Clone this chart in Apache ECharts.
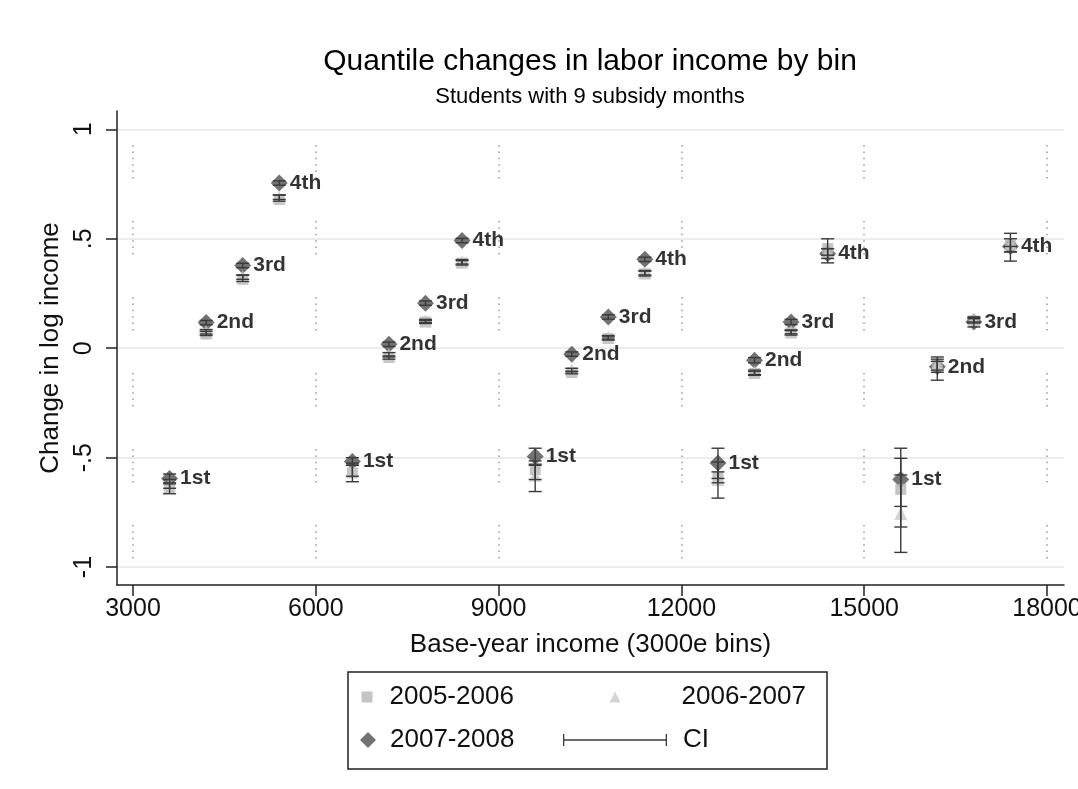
<!DOCTYPE html>
<html>
<head>
<meta charset="utf-8">
<title>Quantile changes in labor income by bin</title>
<script src="https://cdn.jsdelivr.net/npm/echarts@6/dist/echarts.min.js"></script>
<style>
  html, body { margin: 0; padding: 0; background: #fff; }
  #chart { width: 1078px; height: 789px; }
</style>
</head>
<body>
<div id="chart"></div>
<script>
// Quantile positions inside each 3000e base-year income bin
const quantilePos = [
  3600, 4200, 4800, 5400,
  6600, 7200, 7800, 8400,
  9600, 10200, 10800, 11400,
  12600, 13200, 13800, 14400,
  15600, 16200, 16800, 17400
];
const quantileNames = [
  '1st', '2nd', '3rd', '4th',
  '1st', '2nd', '3rd', '4th',
  '1st', '2nd', '3rd', '4th',
  '1st', '2nd', '3rd', '4th',
  '1st', '2nd', '3rd', '4th'
];

// 2005-2006 change in log income and confidence bounds
const y0506 = [
  -0.640, 0.065, 0.315, 0.680,
  -0.570, -0.042, 0.120, 0.389,
  -0.555, -0.111, 0.044, 0.340,
  -0.590, -0.115, 0.070, 0.455,
  -0.645, -0.080, 0.125, 0.470
];
const lo0506 = [
  -0.665, 0.058, 0.305, 0.672,
  -0.610, -0.050, 0.113, 0.380,
  -0.600, -0.117, 0.037, 0.330,
  -0.615, -0.124, 0.060, 0.410,
  -0.817, -0.110, 0.115, 0.440
];
const hi0506 = [
  -0.620, 0.077, 0.333, 0.700,
  -0.535, -0.035, 0.127, 0.400,
  -0.515, -0.105, 0.052, 0.352,
  -0.565, -0.106, 0.080, 0.500,
  -0.503, -0.060, 0.135, 0.500
];

// 2006-2007
const y0607 = [
  -0.620, 0.075, 0.325, 0.690,
  -0.555, -0.030, 0.125, 0.395,
  -0.580, -0.100, 0.050, 0.345,
  -0.600, -0.110, 0.075, 0.440,
  -0.755, -0.075, 0.130, 0.478
];
const lo0607 = [
  -0.640, 0.065, 0.315, 0.680,
  -0.585, -0.040, 0.118, 0.385,
  -0.655, -0.108, 0.042, 0.335,
  -0.685, -0.120, 0.066, 0.425,
  -0.933, -0.100, 0.120, 0.440
];
const hi0607 = [
  -0.600, 0.085, 0.335, 0.700,
  -0.525, -0.020, 0.132, 0.405,
  -0.530, -0.092, 0.058, 0.355,
  -0.520, -0.100, 0.084, 0.455,
  -0.579, -0.050, 0.140, 0.525
];

// 2007-2008
const y0708 = [
  -0.595, 0.117, 0.378, 0.755,
  -0.518, 0.018, 0.206, 0.492,
  -0.495, -0.027, 0.143, 0.406,
  -0.525, -0.055, 0.120, 0.432,
  -0.600, -0.085, 0.120, 0.465
];
const lo0708 = [
  -0.615, 0.107, 0.368, 0.745,
  -0.535, 0.008, 0.196, 0.482,
  -0.535, -0.037, 0.133, 0.396,
  -0.595, -0.067, 0.108, 0.390,
  -0.723, -0.146, 0.097, 0.398
];
const hi0708 = [
  -0.575, 0.127, 0.388, 0.765,
  -0.500, 0.028, 0.216, 0.502,
  -0.457, -0.017, 0.153, 0.416,
  -0.457, -0.043, 0.132, 0.455,
  -0.457, -0.040, 0.143, 0.465
];

// Axis ticks and their printed labels
const xTicks = [3000, 6000, 9000, 12000, 15000, 18000];
const xTickLabels = ['3000', '6000', '9000', '12000', '15000', '18000'];
const yTicks = [-1, -0.5, 0, 0.5, 1];
const yTickLabels = ['-1', '-.5', '0', '.5', '1'];

const FONT = 'Liberation Sans, Arial, sans-serif';

function points(ys) {
  return quantilePos.map((x, i) => ({ name: quantileNames[i], value: [x, ys[i]] }));
}

function tickText(ticks, labels) {
  return v => {
    const i = ticks.findIndex(t => Math.abs(t - v) < 1e-9);
    return i >= 0 ? labels[i] : '';
  };
}

// All confidence intervals as [x, lower, upper]
const ciRows = [];
[[lo0506, hi0506], [lo0607, hi0607], [lo0708, hi0708]].forEach(([lo, hi]) => {
  quantilePos.forEach((x, i) => ciRows.push([x, lo[i], hi[i]]));
});

// Dotted vertical guides: six dots, then a long gap
const dotPattern = [1.5, 4.9, 1.5, 4.9, 1.5, 4.9, 1.5, 4.9, 1.5, 4.9, 1.5, 42.5];

const chart = echarts.init(document.getElementById('chart'), null, { renderer: 'canvas' });

const ciStroke = '#3a3a3a';

chart.setOption({
  backgroundColor: '#ffffff',
  animation: false,
  textStyle: { fontFamily: FONT },
  title: {
    text: 'Quantile changes in labor income by bin',
    subtext: 'Students with 9 subsidy months',
    left: 590,
    top: 47,
    textAlign: 'center',
    padding: 0,
    itemGap: 9,
    textStyle: { fontFamily: FONT, fontSize: 30, fontWeight: 'normal', color: '#000' },
    subtextStyle: { fontFamily: FONT, fontSize: 22, color: '#000' }
  },
  grid: { left: 117, right: 14, top: 111, bottom: 204, containLabel: false, outerBoundsMode: 'none' },
  xAxis: {
    type: 'value',
    min: 2737,
    max: 18279,
    name: 'Base-year income (3000e bins)',
    nameLocation: 'middle',
    nameGap: 47,
    nameTextStyle: { fontFamily: FONT, fontSize: 26, color: '#111' },
    axisLine: { show: true, onZero: false, lineStyle: { color: '#222', width: 1.5 } },
    axisTick: { show: true, length: 11, customValues: xTicks, lineStyle: { color: '#222', width: 1.5 } },
    axisLabel: {
      customValues: xTicks, fontFamily: FONT, fontSize: 25, color: '#111', margin: 12,
      formatter: tickText(xTicks, xTickLabels)
    },
    splitLine: { show: true, lineStyle: { color: '#9a9a9a', width: 1.5, type: dotPattern, dashOffset: 42 } }
  },
  yAxis: {
    type: 'value',
    min: -1.082,
    max: 1.084,
    name: 'Change in log income',
    nameLocation: 'middle',
    nameRotate: 90,
    nameGap: 42,
    nameTextStyle: { fontFamily: FONT, fontSize: 26, color: '#111' },
    axisLine: { show: true, onZero: false, lineStyle: { color: '#222', width: 1.5 } },
    axisTick: { show: true, length: 11, customValues: yTicks, lineStyle: { color: '#222', width: 1.5 } },
    axisLabel: {
      customValues: yTicks,
      rotate: 90,
      margin: 20,
      fontFamily: FONT,
      fontSize: 25,
      color: '#111',
      formatter: tickText(yTicks, yTickLabels)
    },
    splitLine: { show: true, lineStyle: { color: '#e6e6e6', width: 1.5 } }
  },
  legend: [
    {
      data: ['2005-2006'], left: 361.5, top: 684, padding: 0, selectedMode: false,
      itemWidth: 11, itemHeight: 11, icon: 'rect',
      textStyle: { fontFamily: FONT, fontSize: 26, color: '#111', lineHeight: 26, padding: [0, 0, 0, 12] }
    },
    {
      data: ['2006-2007'], left: 609.5, top: 684, padding: 0, selectedMode: false,
      itemWidth: 11, itemHeight: 11, icon: 'triangle',
      textStyle: { fontFamily: FONT, fontSize: 26, color: '#111', lineHeight: 26, padding: [0, 0, 0, 56] }
    },
    {
      data: ['2007-2008'], left: 360, top: 727, padding: 0, selectedMode: false,
      itemWidth: 16, itemHeight: 16, icon: 'diamond',
      textStyle: { fontFamily: FONT, fontSize: 26, color: '#111', lineHeight: 26, padding: [0, 0, 0, 9] }
    },
    {
      data: [{
        name: 'CI',
        icon: 'path://M0,0h1.3v12h-1.3z M0,5.35h104v1.3h-104z M102.7,0h1.3v12h-1.3z',
        itemStyle: { color: ciStroke }
      }],
      left: 563, top: 727, padding: 0, selectedMode: false,
      itemWidth: 104, itemHeight: 12,
      textStyle: { fontFamily: FONT, fontSize: 26, color: '#111', lineHeight: 26, padding: [0, 0, 0, 11] }
    }
  ],
  graphic: [{
    type: 'rect',
    shape: { x: 348, y: 672, width: 479, height: 97 },
    style: { fill: 'none', stroke: '#222', lineWidth: 1.5 },
    silent: true
  }],
  series: [
    {
      name: '2007-2008',
      type: 'scatter',
      symbol: 'diamond',
      symbolSize: 17,
      z: 2,
      itemStyle: { color: '#505050' },
      label: {
        show: true,
        position: 'right',
        distance: 2,
        formatter: '{b}',
        fontFamily: FONT,
        fontSize: 21,
        fontWeight: 'bold',
        color: '#000'
      },
      data: points(y0708)
    },
    {
      name: '2005-2006',
      type: 'scatter',
      symbol: 'rect',
      symbolSize: 11,
      z: 3,
      itemStyle: { color: '#b5b5b5' },
      data: points(y0506)
    },
    {
      name: '2006-2007',
      type: 'scatter',
      symbol: 'triangle',
      symbolSize: 13,
      z: 4,
      itemStyle: { color: '#c9c9c9' },
      data: points(y0607)
    },
    {
      name: 'CI',
      type: 'custom',
      z: 5,
      itemStyle: { color: ciStroke },
      encode: { x: 0, y: [1, 2] },
      renderItem: (params, api) => {
        const x = api.value(0);
        const top = api.coord([x, api.value(2)]);
        const bot = api.coord([x, api.value(1)]);
        const cap = 6.5;
        const style = { stroke: ciStroke, lineWidth: 1.4, fill: null };
        return {
          type: 'group',
          children: [
            { type: 'line', shape: { x1: top[0], y1: top[1], x2: bot[0], y2: bot[1] }, style },
            { type: 'line', shape: { x1: top[0] - cap, y1: top[1], x2: top[0] + cap, y2: top[1] }, style },
            { type: 'line', shape: { x1: bot[0] - cap, y1: bot[1], x2: bot[0] + cap, y2: bot[1] }, style }
          ]
        };
      },
      data: ciRows
    }
  ]
});
</script>
</body>
</html>
